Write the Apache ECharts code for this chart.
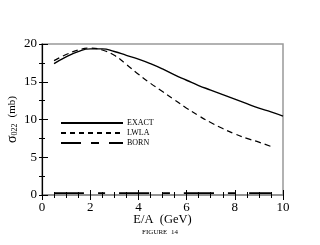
<!DOCTYPE html>
<html><head><meta charset="utf-8">
<script src="https://cdn.jsdelivr.net/npm/echarts@6/dist/echarts.min.js"></script>
<style>html,body{margin:0;padding:0;background:#fff}#c{width:320px;height:245px}</style>
</head><body><div id="c"></div>
<script>
const exactX = [0.5,1,1.5,2,2.5,3,3.5,4,4.5,5,5.5,6,6.5,7,7.5,8,8.5,9,9.5,10];
const exactY = [17.4,18.3,19.0,19.35,19.35,19.0,18.5,18.0,17.4,16.7,15.9,15.2,14.5,13.9,13.3,12.7,12.1,11.5,11.0,10.45];
const lwlaX = [0.5,1,1.5,2,2.5,3,3.5,4,4.5,5,5.5,6,6.5,7,7.5,8,8.5,9,9.6];
const lwlaY = [17.8,18.6,19.2,19.45,19.2,18.5,17.3,16.0,14.8,13.7,12.6,11.5,10.5,9.6,8.8,8.1,7.5,7.0,6.3];
const bornX = [0.5,2,4,6,8,9.5];
const bornY = [0.25,0.25,0.25,0.25,0.25,0.25];
const xTicks = [0,2,4,6,8,10];
const yTicks = [0,5,10,15,20];
const names = ['EXACT','LWLA','BORN'];

const zip = (a,b)=>a.map((v,i)=>[v,b[i]]);
const F = 'Liberation Serif';
const chart = echarts.init(document.getElementById('c'), null, {renderer:'canvas'});
const mkX = (main)=>({
  type:'value', min:xTicks[0], max:xTicks[xTicks.length-1], interval:2,
  position:'bottom',
  name: main ? 'E/A  (GeV)' : '', nameLocation:'middle', nameGap:18, nameMoveOverlap:false,
  nameTextStyle:{fontFamily:F, fontSize:12.5, color:'#000'},
  axisLine:{show:main, lineStyle:{color:'#8a8a8a', width:1.5}},
  axisTick:{show:true, inside:main, length:5, lineStyle:{color:'#000', width:1}},
  minorTick:{show:true, splitNumber:4, length:3, lineStyle:{color:'#000', width:1}},
  axisLabel:{show:main, margin:6, fontFamily:F, fontSize:13, color:'#000'},
  splitLine:{show:false}
});
const mkY = (main)=>({
  type:'value', min:yTicks[0], max:yTicks[yTicks.length-1], interval:5,
  position:'left',
  name: main ? '{s|σ}{sub|022}  {n|(mb)}' : '', nameLocation:'middle', nameGap:23, nameRotate:90, nameMoveOverlap:false,
  nameTextStyle:{fontFamily:F, color:'#000', rich:{
    s:{fontFamily:F, fontSize:14, color:'#000'},
    sub:{fontFamily:F, fontSize:8, color:'#000', verticalAlign:'bottom', padding:[6,0,0,0]},
    n:{fontFamily:F, fontSize:11, color:'#000'}
  }},
  axisLine:{show:main, lineStyle:{color:'#000', width:1.2}},
  axisTick:{show:true, inside:main, length:main?6:3, lineStyle:{color:'#000', width:1}},
  minorTick:{show:true, splitNumber:2, length:3, lineStyle:{color:'#000', width:1}},
  axisLabel:{show:main, margin:5, fontFamily:F, fontSize:13, color:'#000'},
  splitLine:{show:false}
});
chart.setOption({
  animation:false,
  grid:{left:42, right:37, top:44, bottom:50, show:true, borderColor:'#999', borderWidth:1.5,
        containLabel:false, outerBoundsMode:'none'},
  xAxis:[mkX(true), mkX(false)],
  yAxis:[mkY(true), mkY(false)],
  legend:{
    orient:'vertical', left:55, top:114, itemWidth:62, itemHeight:10, itemGap:2,
    itemStyle:{opacity:0},
    textStyle:{fontFamily:F, fontSize:8, color:'#000', padding:[0,0,0,-1]},
    data:[
      {name:names[0]},
      {name:names[1], lineStyle:{type:[5,4]}},
      {name:names[2], lineStyle:{type:[20,10,8,10]}}
    ]
  },
  series:[
    {name:names[0], type:'line', smooth:true, symbol:'none', data:zip(exactX,exactY),
     lineStyle:{color:'#000', width:1.4}, itemStyle:{color:'#000'}},
    {name:names[1], type:'line', smooth:true, symbol:'none', data:zip(lwlaX,lwlaY),
     lineStyle:{color:'#000', width:1.2, type:[6,4]}, itemStyle:{color:'#000'}},
    {name:names[2], type:'line', smooth:true, symbol:'none', data:zip(bornX,bornY),
     lineStyle:{color:'#000', width:1.6, type:[30,14,7,14]}, itemStyle:{color:'#000'}}
  ],
  graphic:[{type:'text', left:'center', top:229, style:{text:'FIGURE  14', fontFamily:F, fontSize:7, fill:'#000'}, x:-2}]
});
</script></body></html>
